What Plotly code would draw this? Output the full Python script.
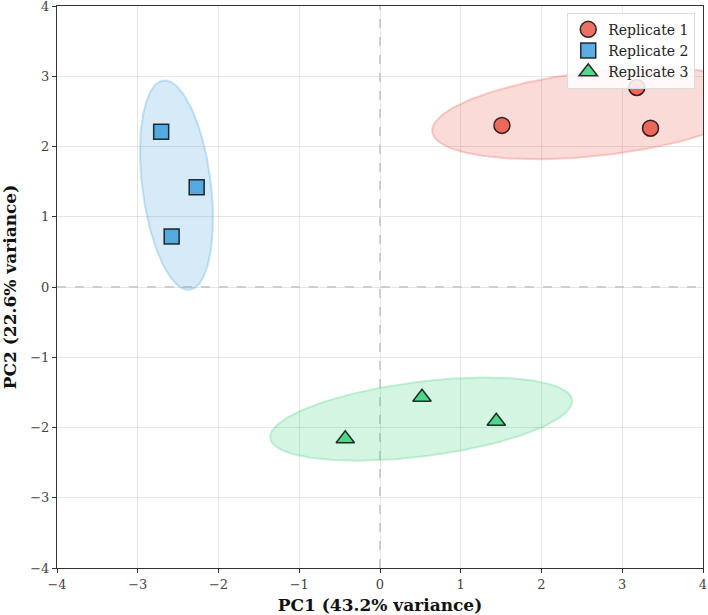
import numpy as np
import plotly.graph_objects as go

groups = ["Replicate 1", "Replicate 2", "Replicate 3"]
pc1 = {
    "Replicate 1": [1.51, 3.18, 3.35],
    "Replicate 2": [-2.71, -2.27, -2.58],
    "Replicate 3": [-0.43, 0.52, 1.44],
}
pc2 = {
    "Replicate 1": [2.30, 2.84, 2.26],
    "Replicate 2": [2.21, 1.42, 0.72],
    "Replicate 3": [-2.16, -1.57, -1.91],
}
colors = {"Replicate 1": (231, 76, 60), "Replicate 2": (52, 152, 219), "Replicate 3": (46, 204, 113)}
symbols = {"Replicate 1": "circle", "Replicate 2": "square", "Replicate 3": "triangle-up"}
tick_vals = [-4, -3, -2, -1, 0, 1, 2, 3, 4]
tick_text = ["\u22124", "\u22123", "\u22122", "\u22121", "0", "1", "2", "3", "4"]
n_std = 2.0

FONT = "DejaVu Serif"

def ellipse(x, y, n_std):
    x = np.asarray(x); y = np.asarray(y)
    cov = np.cov(x, y)
    p = cov[0, 1] / np.sqrt(cov[0, 0] * cov[1, 1])
    rx, ry = np.sqrt(1 + p), np.sqrt(1 - p)
    t = np.linspace(0, 2 * np.pi, 200)
    ex, ey = rx * np.cos(t), ry * np.sin(t)
    c, s = np.cos(np.pi / 4), np.sin(np.pi / 4)
    xr = ex * c - ey * s
    yr = ex * s + ey * c
    xs = xr * np.sqrt(cov[0, 0]) * n_std + x.mean()
    ys = yr * np.sqrt(cov[1, 1]) * n_std + y.mean()
    return xs, ys

fig = go.Figure()
for g in groups:
    r, gg, b = colors[g]
    ex, ey = ellipse(pc1[g], pc2[g], n_std)
    fig.add_trace(go.Scatter(
        x=ex, y=ey, mode="lines", fill="toself",
        fillcolor=f"rgba({r},{gg},{b},0.2)",
        line=dict(color=f"rgba({r},{gg},{b},0.25)", width=2),
        showlegend=False, hoverinfo="skip"))

for g in groups:
    r, gg, b = colors[g]
    fig.add_trace(go.Scatter(
        x=pc1[g], y=pc2[g], mode="markers", name=g,
        marker=dict(symbol=symbols[g], size=16 if g != "Replicate 2" else 15,
                    color=f"rgba({r},{gg},{b},0.8)",
                    line=dict(color="rgba(0,0,0,0.8)", width=1.5))))

fig.add_shape(type="line", x0=0, x1=0, y0=-4, y1=4, xref="x", yref="y", layer="below",
              line=dict(color="rgba(128,128,128,0.5)", width=1.5, dash="dash"))
fig.add_shape(type="line", x0=-4, x1=4, y0=0, y1=0, xref="x", yref="y", layer="below",
              line=dict(color="rgba(128,128,128,0.5)", width=1.5, dash="dash"))

axis_common = dict(
    range=[-4, 4], tickvals=tick_vals, ticktext=tick_text,
    showgrid=True, gridcolor="rgba(200,200,200,0.45)", gridwidth=1,
    zeroline=False, showline=True, linecolor="#333333", linewidth=1.2, mirror=True,
    ticks="outside", ticklen=4, tickcolor="#333333",
    tickfont=dict(family=FONT, size=13, color="#444444"),
    ticklabeloverflow="allow", automargin=False,
)
fig.update_xaxes(**axis_common, title=dict(text="<b>PC1 (43.2% variance)</b>",
                 font=dict(family=FONT, size=17, color="#111111"), standoff=8))
fig.update_yaxes(**axis_common, title=dict(text="<b>PC2 (22.6% variance)</b>",
                 font=dict(family=FONT, size=17, color="#111111"), standoff=10))

fig.update_layout(
    width=708, height=615,
    margin=dict(l=57, r=5, t=6, b=47),
    paper_bgcolor="white", plot_bgcolor="white",
    font=dict(family=FONT, size=13, color="#333333"),
    legend=dict(x=0.988, y=0.988, xanchor="right", yanchor="top",
                bgcolor="rgba(255,255,255,0.85)", bordercolor="#dddddd", borderwidth=1,
                font=dict(family=FONT, size=14, color="#222222")),
    showlegend=True,
)

fig.write_html("out.html")
